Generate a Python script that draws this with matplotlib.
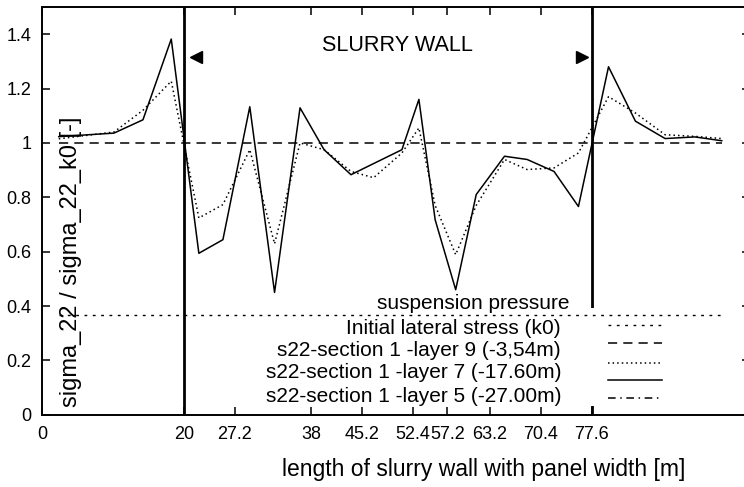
import matplotlib
matplotlib.use("Agg")
import matplotlib.pyplot as plt
from matplotlib.patches import Rectangle

plt.rcParams.update({
    "font.family": "Liberation Sans",
    "font.size": 14,
    "axes.linewidth": 1.4,
})

# ---------------------------------------------------------------------------
# data: s22 / s22_k0 along the slurry wall
# ---------------------------------------------------------------------------
positions = [2.3, 10.1, 14.2, 18.2, 22.1, 25.5, 29.3, 32.8, 36.4, 39.8,
             43.6, 46.8, 50.8, 53.2, 55.5, 58.4, 61.3, 65.3, 68.5, 72.3,
             75.75, 80.0, 83.8, 88.0, 92.2, 96.0]

layer9 = [1.015, 1.04, 1.12, 1.227, 0.724, 0.773, 0.975, 0.629, 1.0, 0.975,
          0.895, 0.872, 0.963, 1.055, 0.77, 0.589, 0.77, 0.939, 0.902, 0.908,
          0.963, 1.17, 1.11, 1.03, 1.024, 1.016]

layer7 = [1.023, 1.036, 1.085, 1.382, 0.594, 0.644, 1.133, 0.45, 1.129, 0.975,
          0.883, 0.924, 0.975, 1.16, 0.717, 0.46, 0.81, 0.951, 0.939, 0.895,
          0.766, 1.28, 1.08, 1.016, 1.022, 1.008]

k0_ratio = 1.0
suspension = 0.367

wall_start = 20.0
wall_end = 77.6

xticks = [0, 20, 27.2, 38, 45.2, 52.4, 57.2, 63.2, 70.4, 77.6]
xticklabels = ["0", "20", "27.2", "38", "45.2", "52.4", "57.2", "63.2", "70.4", "77.6"]
yticks = [0, 0.2, 0.4, 0.6, 0.8, 1.0, 1.2, 1.4]
yticklabels = ["0", "0.2", "0.4", "0.6", "0.8", "1", "1.2", "1.4"]

key_labels = [
    "Initial lateral stress (k0)",
    "s22-section 1 -layer 9 (-3,54m)",
    "s22-section 1 -layer 7 (-17.60m)",
    "s22-section 1 -layer 5 (-27.00m)",
]

# line styles
STY_SUSP = dict(color="black", lw=1.0, linestyle=(0, (2, 4)))
STY_K0 = dict(color="black", lw=1.1, linestyle=(0, (6, 4)))
STY_L9 = dict(color="black", lw=1.1, linestyle=(0, (1, 2)))
STY_L7 = dict(color="black", lw=1.1, linestyle="-")
STY_L5 = dict(color="black", lw=1.1, linestyle=(0, (5, 3, 1, 3)))

fig = plt.figure(figsize=(7.44, 4.87), dpi=100)
ax = fig.add_axes([0.0571, 0.1483, 0.951, 0.8374])

x0, x1 = positions[0], positions[-1]
ax.plot([x0, x1], [suspension, suspension], zorder=5, **STY_SUSP)
ax.plot([x0, x1], [k0_ratio, k0_ratio], zorder=4, **STY_K0)
ax.plot(positions, layer9, zorder=4, **STY_L9)
ax.plot(positions, layer7, zorder=4, **STY_L7)

# panel walls
ax.axvline(wall_start, color="black", lw=2.0, zorder=2)
ax.axvline(wall_end, color="black", lw=2.0, zorder=2)
ax.plot([wall_start + 1.75], [1.316], marker="<", color="black", ms=8, zorder=4)
ax.plot([wall_end - 1.3], [1.316], marker=">", color="black", ms=8, zorder=4)
ax.text(50.2, 1.36, "SLURRY WALL", ha="center", va="center", fontsize=15.6)

ax.set_xlim(0, 100)
ax.set_ylim(0, 1.5)
ax.set_xticks(xticks)
ax.set_xticklabels(xticklabels)
ax.set_yticks(yticks)
ax.set_yticklabels(yticklabels)
ax.tick_params(direction="in", top=True, right=True, length=6, width=1.1,
               labelsize=13)
ax.tick_params(axis="x", pad=8)
ax.tick_params(axis="y", pad=8)

ax.text(4.0, 0.03, "sigma_22 / sigma_22_k0 [-]", rotation=90,
        ha="center", va="bottom", fontsize=17, zorder=6)
ax.set_xlabel("length of slurry wall with panel width [m]", fontsize=16.5)
ax.xaxis.set_label_coords(0.623, -0.105)

# key: opaque box with labels right-aligned and samples on the right
ax.add_patch(Rectangle((30, 0.032), 66, 0.36, facecolor="white",
                       edgecolor="none", zorder=3))
ax.text(74.5, 0.411, "suspension pressure", ha="right", va="center",
        fontsize=15, zorder=6)
key_rows = [0.319, 0.238, 0.157, 0.066]
for label, y in zip(key_labels, key_rows):
    ax.text(73.3, y, label, ha="right", va="center", fontsize=15, zorder=6)
sample_y = [0.331, 0.264, 0.19, 0.128, 0.062]
for sty, y in zip([STY_SUSP, STY_K0, STY_L9, STY_L7, STY_L5], sample_y):
    ax.plot([79.9, 87.5], [y, y], zorder=6, **sty)

fig.savefig("out.png", dpi=100)
